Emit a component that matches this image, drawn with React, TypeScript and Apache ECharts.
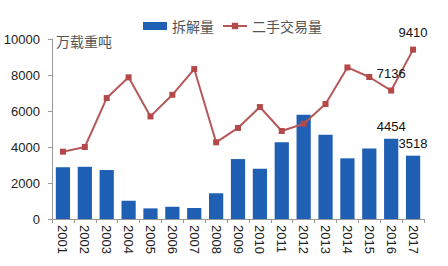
import React, { useEffect, useRef } from "react";
import * as echarts from "echarts";

const years = ["2001","2002","2003","2004","2005","2006","2007","2008","2009","2010","2011","2012","2013","2014","2015","2016","2017"];
const scrapVolume = [2870, 2900, 2720, 1020, 590, 680, 610, 1430, 3330, 2790, 4260, 5790, 4680, 3370, 3910, 4454, 3518];
const tradeVolume = [3740, 4000, 6720, 7870, 5700, 6900, 8330, 4260, 5060, 6220, 4890, 5290, 6390, 8420, 7890, 7136, 9410];
const labeledYears = ["2016", "2017"];
const unitLabel = "万载重吨";

export default function App() {
  const ref = useRef<HTMLDivElement>(null);
  useEffect(() => {
    if (!ref.current) return;
    const chart = echarts.init(ref.current, null, { renderer: "svg" });
    const labelFont = { fontFamily: "Liberation Sans, Arial, sans-serif", fontSize: 13, color: "#222" };
    chart.setOption({
      animation: false,
      backgroundColor: "#fff",
      legend: {
        top: 14,
        left: 138,
        itemGap: 8,
        itemWidth: 24,
        itemHeight: 8,
        textStyle: { fontFamily: "Noto Sans CJK SC", fontSize: 14, color: "#555" },
        data: [
          { name: "拆解量", icon: "rect" },
          { name: "二手交易量" },
        ],
      },
      graphic: [
        {
          type: "text",
          left: 56,
          top: 34,
          style: { text: unitLabel, fontFamily: "Noto Sans CJK SC", fontSize: 14, fill: "#555" },
        },
      ],
      grid: { left: 52, right: 24, top: 39, bottom: 47 },
      xAxis: {
        type: "category",
        data: years,
        axisLine: { lineStyle: { color: "#999" } },
        axisTick: { show: true, alignWithLabel: false, length: 4, lineStyle: { color: "#999" } },
        axisLabel: { ...labelFont, rotate: -90, margin: 6 },
      },
      yAxis: {
        type: "value",
        min: 0,
        max: 10000,
        interval: 2000,
        splitLine: { show: false },
        axisLine: { show: true, lineStyle: { color: "#999" } },
        axisTick: { show: true, length: 4, inside: false, lineStyle: { color: "#999" } },
        axisLabel: { ...labelFont, margin: 12, formatter: (v: number) => String(v) },
      },
      series: [
        {
          name: "拆解量",
          type: "bar",
          data: scrapVolume.map((v, i) => ({
            value: v,
            label: { show: labeledYears.includes(years[i]) },
          })),
          barCategoryGap: "35%",
          itemStyle: { color: "#1f5fb4" },
          label: { position: "top", ...labelFont, color: "#111", distance: 6 },
        },
        {
          name: "二手交易量",
          type: "line",
          data: tradeVolume.map((v, i) => ({
            value: v,
            label: { show: labeledYears.includes(years[i]) },
          })),
          symbol: "rect",
          symbolSize: 6,
          itemStyle: { color: "#b5494a" },
          lineStyle: { color: "#b5585a", width: 2 },
          label: { position: "top", ...labelFont, color: "#111", distance: 8 },
        },
      ],
    });
    return () => chart.dispose();
  }, []);
  return <div ref={ref} style={{ width: 448, height: 266, position: "absolute", left: 0, top: 0 }} />;
}
